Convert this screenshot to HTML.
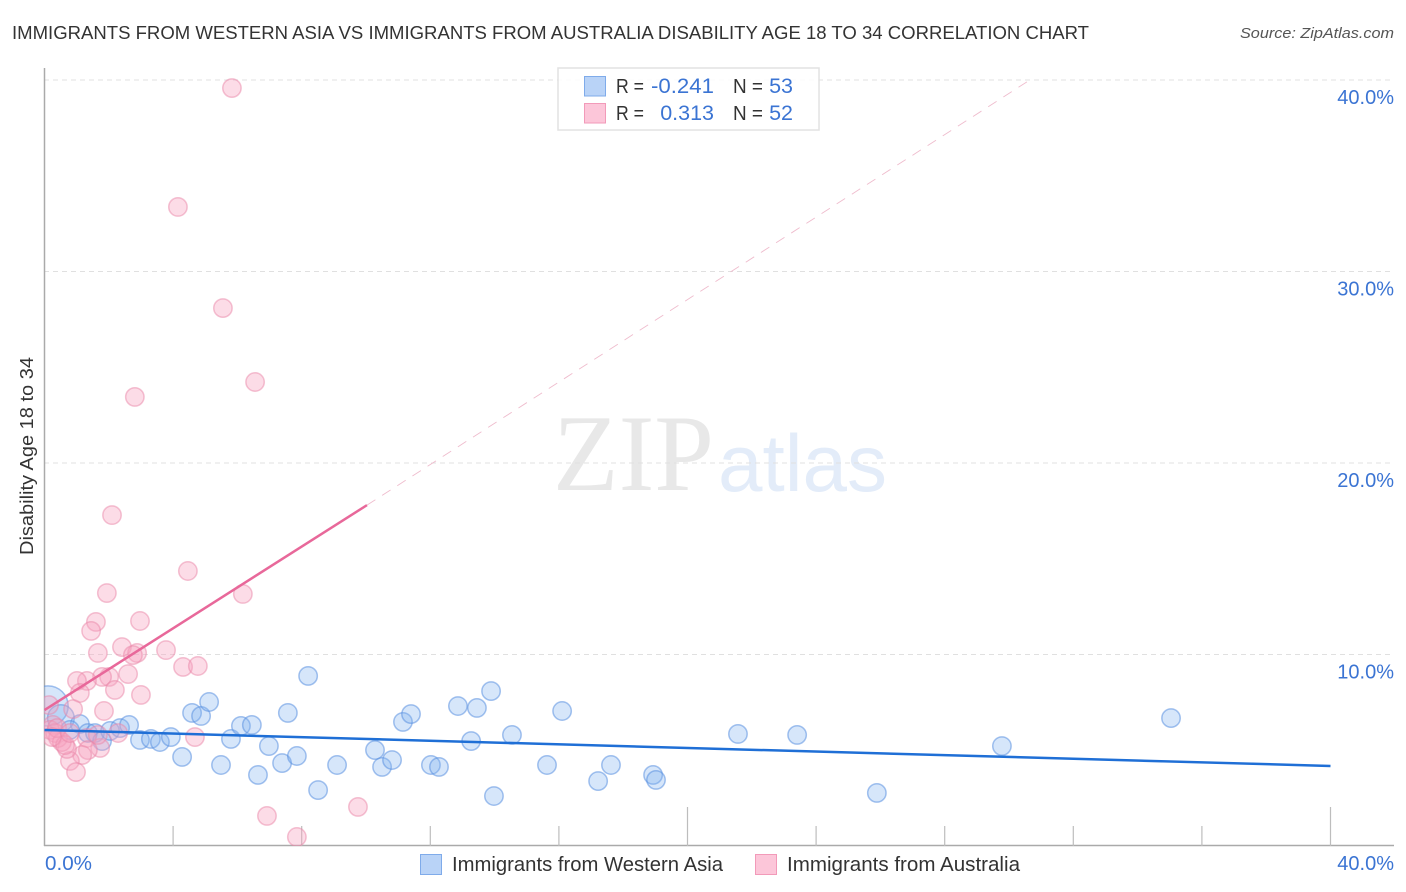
<!DOCTYPE html>
<html lang="en">
<head>
<meta charset="utf-8">
<title>Disability Age 18 to 34 Correlation Chart</title>
<style>
html,body{margin:0;padding:0;background:#fff;width:1406px;height:892px;overflow:hidden}
svg{display:block;font-family:"Liberation Sans",sans-serif}
</style>
</head>
<body>
<svg id="chart" width="1406" height="892" viewBox="0 0 1406 892">
  <defs>
    <clipPath id="plot-clip"><rect x="44" y="60" width="1350" height="786"/></clipPath>
  </defs>
  <rect width="1406" height="892" fill="#fff"/>
  <text x="12" y="39" font-size="18.5" fill="#333" textLength="1077" lengthAdjust="spacingAndGlyphs">IMMIGRANTS FROM WESTERN ASIA VS IMMIGRANTS FROM AUSTRALIA DISABILITY AGE 18 TO 34 CORRELATION CHART</text>
  <text x="1394" y="38" font-size="15" font-style="italic" fill="#555" text-anchor="end" textLength="154" lengthAdjust="spacingAndGlyphs">Source: ZipAtlas.com</text>
  <text x="553" y="490" font-family="'Liberation Serif',serif" font-size="109" fill="#e8e8e8" textLength="161" lengthAdjust="spacingAndGlyphs">ZIP</text>
  <text x="718" y="491" font-size="81" fill="#e3ecf9" textLength="169" lengthAdjust="spacingAndGlyphs">atlas</text>
  <g id="grid"></g>
  <g id="axes"></g>
  <g id="points-blue" clip-path="url(#plot-clip)"></g>
  <g id="points-pink" clip-path="url(#plot-clip)"></g>
  <g id="trends" clip-path="url(#plot-clip)"></g>
  <g id="tick-labels"></g>
  <text transform="translate(33,456) rotate(-90)" font-size="18" fill="#333" text-anchor="middle" textLength="198" lengthAdjust="spacingAndGlyphs">Disability Age 18 to 34</text>

  <g>
    <rect x="558" y="68" width="261" height="62" fill="#fff" fill-opacity="0.85" stroke="#e2e2e2" stroke-width="1.5"/>
    <rect x="584.5" y="76.5" width="21" height="19.5" fill="#b9d3f7" stroke="#7fabea"/>
    <rect x="584.5" y="103.5" width="21" height="19.5" fill="#fcc6d9" stroke="#f29ab9"/>
    <g font-size="20" fill="#333">
      <text x="616" y="93" textLength="28" lengthAdjust="spacingAndGlyphs">R =</text>
      <text x="733" y="93" textLength="30" lengthAdjust="spacingAndGlyphs">N =</text>
      <text x="616" y="120" textLength="28" lengthAdjust="spacingAndGlyphs">R =</text>
      <text x="733" y="120" textLength="30" lengthAdjust="spacingAndGlyphs">N =</text>
    </g>
    <g font-size="21.5" fill="#3b74d3">
      <text x="651" y="93" textLength="63" lengthAdjust="spacingAndGlyphs">-0.241</text>
      <text x="793" y="93" text-anchor="end">53</text>
      <text x="714" y="120" text-anchor="end">0.313</text>
      <text x="793" y="120" text-anchor="end">52</text>
    </g>
  </g>

  <g>
    <rect x="420.5" y="854.5" width="21" height="20" fill="#b9d3f7" stroke="#7fabea"/>
    <text x="452" y="871" font-size="20" fill="#333" textLength="271" lengthAdjust="spacingAndGlyphs">Immigrants from Western Asia</text>
    <rect x="755.5" y="854.5" width="21" height="20" fill="#fcc6d9" stroke="#f29ab9"/>
    <text x="787" y="871" font-size="20" fill="#333" textLength="233" lengthAdjust="spacingAndGlyphs">Immigrants from Australia</text>
  </g>
</svg>
<script>
const xTickValues = [4, 8, 12, 16, 20, 24, 28, 32, 36, 40];
const xTickLabels = ['0.0%', '40.0%'];
const yTickValues = [10, 20, 30, 40];
const yTickLabels = ['10.0%', '20.0%', '30.0%', '40.0%'];

const blueX = [0.11,0.51,1.10,0.79,1.35,1.57,1.79,2.04,2.35,2.63,2.97,3.31,3.59,3.93,4.28,4.59,4.87,5.12,5.49,5.80,6.11,6.45,6.64,6.98,7.39,7.57,7.85,8.20,8.51,9.10,10.28,10.50,10.81,11.15,11.40,12.02,12.27,12.86,13.27,13.45,13.89,13.98,14.54,15.63,16.10,17.22,17.62,18.93,19.02,21.57,23.41,25.89,29.78,35.04];
const blueY = [7.31,6.68,6.37,6.06,5.90,5.90,5.48,6.01,6.16,6.32,5.54,5.59,5.43,5.69,4.65,6.95,6.79,7.52,4.23,5.59,6.27,6.32,3.71,5.22,4.33,6.95,4.70,8.88,2.92,4.23,5.01,4.13,4.49,6.48,6.89,4.23,4.13,7.31,5.48,7.21,8.09,2.61,5.80,4.23,7.05,3.39,4.23,3.71,3.45,5.85,5.80,2.77,5.22,6.68];
const blueWeight = [4.8,2.1];

const pinkX = [5.83,4.15,5.55,6.55,2.81,2.10,4.46,6.17,1.94,1.60,1.45,2.97,2.41,1.66,2.88,2.75,3.78,4.31,4.77,2.60,2.01,1.79,1.32,1.01,1.10,2.19,3.00,1.85,0.89,4.68,2.29,1.32,1.73,1.35,1.17,0.79,0.70,0.98,6.92,7.85,9.75,0.14,0.26,0.17,0.33,0.42,0.54,0.64,0.39,0.79,1.66,0.23];
const pinkY = [39.58,33.37,28.09,24.23,23.45,17.28,14.36,13.16,13.21,11.70,11.23,11.75,10.39,10.08,10.08,9.97,10.23,9.35,9.40,8.98,8.83,8.83,8.62,8.62,7.99,8.15,7.89,7.05,7.15,5.69,5.90,5.64,5.12,5.01,4.75,4.44,5.07,3.86,1.57,0.47,2.04,7.36,6.32,6.06,5.90,5.64,5.43,5.27,6.16,5.90,5.80,5.69];

const blueTrendX = [0, 40];
const blueTrendY = [6.06, 4.18];
const pinkSolidX = [0, 10.03];
const pinkSolidY = [7.1, 17.8];
const pinkDashX = [10.03, 30.65];
const pinkDashY = [17.8, 40];

const NS = 'http://www.w3.org/2000/svg';
const xScale = v => 44.5 + v * 32.15;
const yScale = v => 846 - v * 19.15;
const baseRadius = 9.2;

function make(parent, tag, attrs, content) {
  const el = document.createElementNS(NS, tag);
  for (const k in attrs) el.setAttribute(k, attrs[k]);
  if (content !== undefined) el.textContent = content;
  document.getElementById(parent).appendChild(el);
  return el;
}

yTickValues.forEach((v, i) => {
  const line = make('grid', 'line', {x1: 44, x2: 1394, y1: yScale(v), y2: yScale(v), stroke: '#e0e0e0', 'stroke-width': 1, 'stroke-dasharray': '5 4'});
  
  
  const label = make('tick-labels', 'text', {x: 1394, y: yScale(v) + 24, 'font-size': 20, fill: '#3b74d3', 'text-anchor': 'end'}, yTickLabels[i]);
  
  
});

const yAxisLine = make('axes', 'line', {x1: 44.5, x2: 44.5, y1: 68, y2: 846, stroke: '#aaa', 'stroke-width': 1.5});


const xAxisLine = make('axes', 'line', {x1: 44, x2: 1394, y1: 845.5, y2: 845.5, stroke: '#aaa', 'stroke-width': 1.5});



xTickValues.forEach(v => {
  const top = v % 20 === 0 ? 807 : 826;
  const tick = make('axes', 'line', {x1: xScale(v), x2: xScale(v), y1: top, y2: 846, stroke: '#bdbdbd', 'stroke-width': 1.2});
  
  
});

const xLabelStart = make('tick-labels', 'text', {x: 45, y: 870, 'font-size': 20, fill: '#3b74d3', textLength: 47, lengthAdjust: 'spacingAndGlyphs'}, xTickLabels[0]);


const xLabelEnd = make('tick-labels', 'text', {x: 1394, y: 870, 'font-size': 20, fill: '#3b74d3', 'text-anchor': 'end'}, xTickLabels[1]);



blueX.forEach((v, i) => {
  const weight = blueWeight[i] || 1;
  const dot = make('points-blue', 'circle', {cx: xScale(v), cy: yScale(blueY[i]), r: baseRadius * Math.sqrt(weight), fill: '#7fb0f0', 'fill-opacity': 0.32, stroke: '#5a90e0', 'stroke-opacity': 0.55, 'stroke-width': 1.5});
  
  
});

pinkX.forEach((v, i) => {
  const dot = make('points-pink', 'circle', {cx: xScale(v), cy: yScale(pinkY[i]), r: baseRadius, fill: '#f7a3bf', 'fill-opacity': 0.38, stroke: '#ea86a8', 'stroke-opacity': 0.5, 'stroke-width': 1.5});
  
  
});

const pinkDash = make('trends', 'line', {x1: xScale(pinkDashX[0]), y1: yScale(pinkDashY[0]), x2: xScale(pinkDashX[1]), y2: yScale(pinkDashY[1]), stroke: '#efbccd', 'stroke-width': 0.9, 'stroke-dasharray': '10 8'});


const pinkSolid = make('trends', 'line', {x1: xScale(pinkSolidX[0]), y1: yScale(pinkSolidY[0]), x2: xScale(pinkSolidX[1]), y2: yScale(pinkSolidY[1]), stroke: '#e8689a', 'stroke-width': 2.5});


const blueTrend = make('trends', 'line', {x1: xScale(blueTrendX[0]), y1: yScale(blueTrendY[0]), x2: xScale(blueTrendX[1]), y2: yScale(blueTrendY[1]), stroke: '#1f6fd6', 'stroke-width': 2.5});


</script>
</body>
</html>
